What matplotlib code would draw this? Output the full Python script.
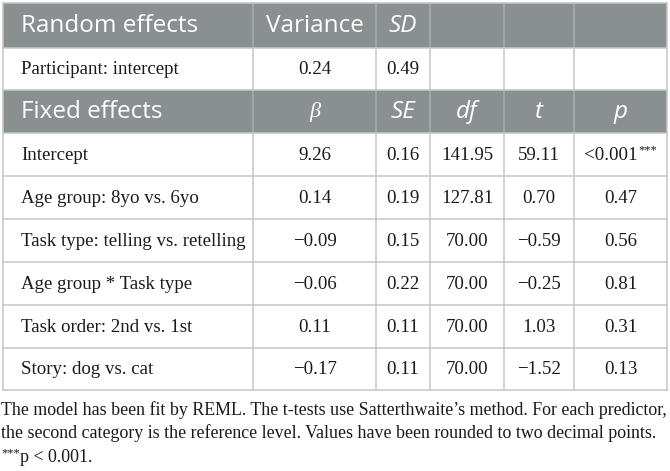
import matplotlib
matplotlib.use("Agg")
import matplotlib.pyplot as plt
from matplotlib.patches import Rectangle

# ---- data ----
random_header = ["Random effects", "Variance", "SD", "", "", ""]
random_rows = [["Participant: intercept", "0.24", "0.49", "", "", ""]]
fixed_header = ["Fixed effects", "β", "SE", "df", "t", "p"]
predictors = ["Intercept", "Age group: 8yo vs. 6yo", "Task type: telling vs. retelling",
              "Age group * Task type", "Task order: 2nd vs. 1st", "Story: dog vs. cat"]
beta = ["9.26", "0.14", "−0.09", "−0.06", "0.11", "−0.17"]
se = ["0.16", "0.19", "0.15", "0.22", "0.11", "0.11"]
df = ["141.95", "127.81", "70.00", "70.00", "70.00", "70.00"]
tval = ["59.11", "0.70", "−0.59", "−0.25", "1.03", "−1.52"]
pval = ["<0.001***", "0.47", "0.56", "0.81", "0.31", "0.13"]
footnote = ["The model has been fit by REML. The t-tests use Satterthwaite’s method. For each predictor,",
            "the second category is the reference level. Values have been rounded to two decimal points.",
            "***p < 0.001."]

# ---- layout (pixels) ----
W, H = 670, 471
col_x = [3, 253, 376, 430, 504, 574, 667]
row_y = [3, 48, 90, 133, 176, 219, 262, 305, 348, 390]
header_rows = {0, 2}
header_color = "#8a9091"
grid_color = "#c4c7c7"
hdr_sep = "#a9aeaf"
italic_hdr = {"SD", "β", "SE", "df", "t", "p"}
txt_color = "#1a1a1a"

fig = plt.figure(figsize=(W / 100, H / 100), dpi=100)
ax = fig.add_axes([0, 0, 1, 1])
ax.set_xlim(0, W)
ax.set_ylim(H, 0)
ax.axis("off")
fig.canvas.draw()
renderer = fig.canvas.get_renderer()


def text_width(t):
    bb = t.get_window_extent(renderer=renderer)
    return bb.width  # pixels == data units here


rows = [random_header] + random_rows + [fixed_header]
for i in range(len(predictors)):
    rows.append([predictors[i], beta[i], se[i], df[i], tval[i], pval[i]])

serif = ["Liberation Serif", "DejaVu Serif"]
sans = ["Open Sans", "DejaVu Sans"]
BODY = 13.6
STAR = 9

for r, row in enumerate(rows):
    y0, y1 = row_y[r], row_y[r + 1]
    yc = (y0 + y1) / 2
    is_hdr = r in header_rows
    if is_hdr:
        ax.add_patch(Rectangle((col_x[0], y0), col_x[-1] - col_x[0], y1 - y0,
                               facecolor=header_color, edgecolor="none", zorder=1))
    for c, txt in enumerate(row):
        if txt == "":
            continue
        if c == 0:
            x, ha = col_x[0] + 18, "left"
        else:
            x, ha = (col_x[c] + col_x[c + 1]) / 2, "center"
        if is_hdr:
            style = "italic" if txt in italic_hdr else "normal"
            if txt == "β":
                ax.text(x, yc + 1, txt, ha=ha, va="center", color="white",
                        fontsize=16, family=serif, style="italic", zorder=3)
            else:
                ax.text(x, yc + 1, txt, ha=ha, va="center", color="white",
                        fontsize=17.5 if c == 0 else 17.5, family=sans, style=style, zorder=3)
        else:
            if txt.endswith("***"):
                base = txt[:-3]
                t1 = ax.text(0, yc + 1, base, ha="left", va="center", color=txt_color,
                             fontsize=BODY, family=serif, zorder=3)
                t2 = ax.text(0, yc - 4, "***", ha="left", va="center", color=txt_color,
                             fontsize=STAR, family=serif, zorder=3)
                w1, w2 = text_width(t1), text_width(t2)
                left = x - (w1 + w2) / 2
                t1.set_x(left)
                t2.set_x(left + w1)
            else:
                ax.text(x, yc + 1, txt, ha=ha, va="center", color=txt_color,
                        fontsize=BODY, family=serif, zorder=3)
    # vertical separators
    for c in range(1, len(col_x) - 1):
        ax.plot([col_x[c], col_x[c]], [y0, y1], color=hdr_sep if is_hdr else grid_color,
                lw=1.1, zorder=2)

# horizontal lines
for y in row_y:
    ax.plot([col_x[0], col_x[-1]], [y, y], color=grid_color, lw=1.1, zorder=2)
# outer border
ax.plot([col_x[0], col_x[0]], [row_y[0], row_y[-1]], color=grid_color, lw=1.1, zorder=2)
ax.plot([col_x[-1], col_x[-1]], [row_y[0], row_y[-1]], color=grid_color, lw=1.1, zorder=2)

# footnote
FOOT = 12.9
fy = [410, 433, 457]
for line, y in zip(footnote, fy):
    if line.startswith("***"):
        s = ax.text(1, y - 4, "***", ha="left", va="center", fontsize=STAR, family=serif, color=txt_color)
        ax.text(1 + text_width(s), y, line[3:], ha="left", va="center", fontsize=FOOT,
                family=serif, color=txt_color)
    else:
        ax.text(1, y, line, ha="left", va="center", fontsize=FOOT, family=serif, color=txt_color)

fig.savefig("out.png", dpi=100)
